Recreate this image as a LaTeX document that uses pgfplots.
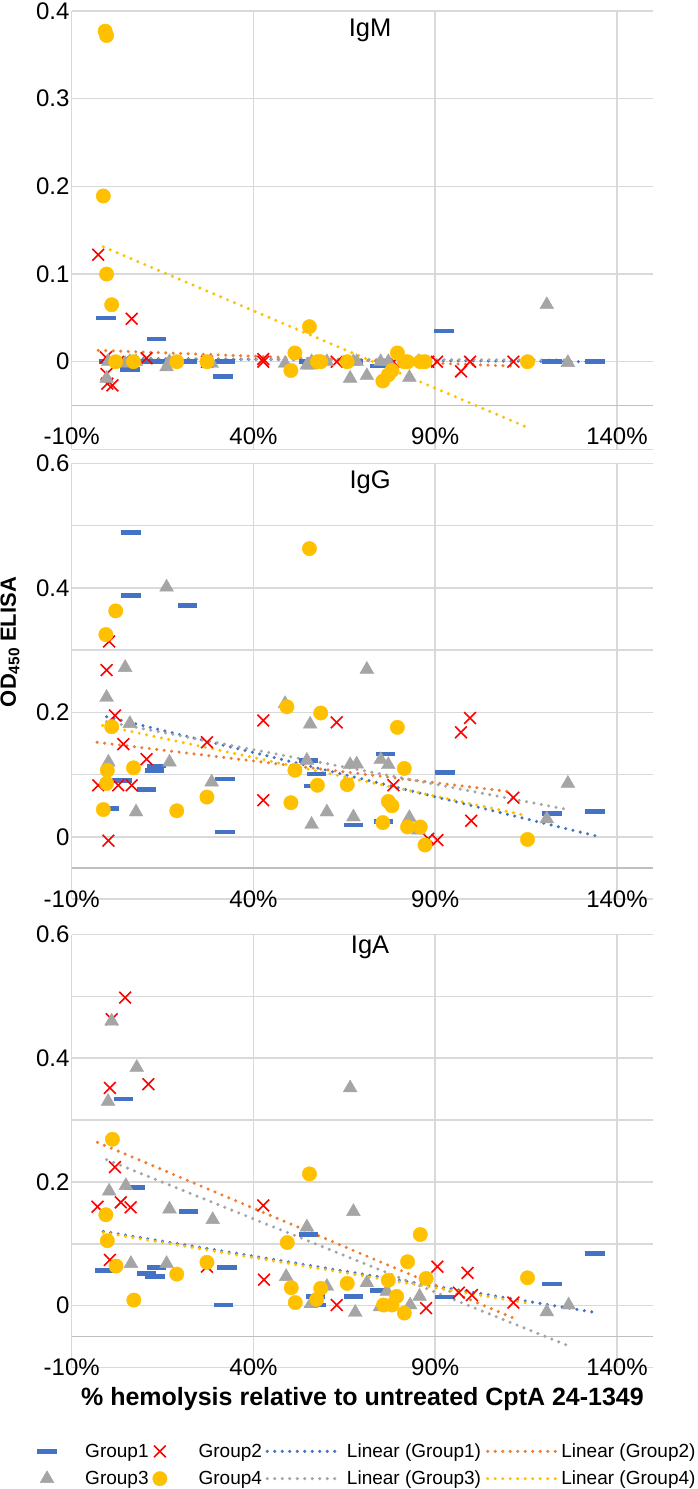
\documentclass[border=0pt]{standalone}
\usepackage{fontspec}
\setmainfont{Liberation Sans}
\usepackage{pgfplots}
\pgfplotsset{compat=1.18}
\definecolor{cb}{HTML}{4472C4}
\definecolor{co}{HTML}{ED7D31}
\definecolor{cg}{HTML}{A5A5A5}
\definecolor{cy}{HTML}{FFC000}
\definecolor{cr}{HTML}{FF0000}
\definecolor{gridc}{HTML}{D9D9D9}
\definecolor{axc}{HTML}{BFBFBF}
\pgfplotsset{
  panel/.style={
    scale only axis, width=581.6pt,
    xmin=-10, xmax=150,
    xtick={-10,40,90,140}, xticklabels={-10\%,40\%,90\%,140\%},
    grid=major, major grid style={draw=gridc, line width=1.5pt},
    axis line style={draw=none}, major tick length=0pt, minor tick length=0pt,
    tick label style={font=\fontsize{24}{28}\selectfont},
    yticklabel style={inner sep=2pt},
    xticklabel style={anchor=center},
    extra y ticks={-0.05}, extra y tick labels={},
    extra y tick style={major grid style={draw=axc, line width=1.8pt}},
    title style={font=\fontsize{25.5}{30}\selectfont, anchor=base},
    /pgf/number format/assume math mode=true,
  },
  g1/.style={only marks, mark=-, mark size=9.7pt, color=cb, mark options={draw=cb, line width=4.7pt}},
  g2/.style={only marks, mark=x, mark size=8.3pt, color=cr, mark options={draw=cr, line width=1.6pt}},
  g3/.style={only marks, mark=triangle*, mark size=8pt, color=cg, mark options={draw=none, fill=cg}},
  g4/.style={only marks, mark=*, mark size=7.2pt, color=cy, mark options={draw=none, fill=cy}},
  tl/.style={no marks, line width=3.4pt, line cap=round, dash pattern=on 0pt off 7.5pt,
    legend image code/.code={\draw[##1] (0pt,0pt) -- (70pt,0pt);}},
}
\begin{document}
\begin{tikzpicture}
\path[use as bounding box] (0pt,0pt) rectangle (697pt,-1489pt);
% ---------------- IgM ----------------
\begin{axis}[panel, at={(71.7pt,-11pt)}, anchor=north west, height=438.4pt,
  ymin=-0.1, ymax=0.4, ytick={-0.1,0,0.1,0.2,0.3,0.4}, yticklabels={,0,0.1,0.2,0.3,0.4},
  xticklabel style={yshift=12.7pt},
  title={IgM}, title style={at={(0.513,1)}, yshift=-31.7pt}]
\addplot[g1] coordinates {(-0.6,0.050) (0.1,0.000) (3.8,0.000) (6.0,-0.009) (10.6,0.000) (12.9,0.000) (13.4,0.026) (21.8,0.000) (31.6,-0.017) (32.2,0.000) (55.1,0.000) (57.4,0.000) (67.5,0.000) (74.7,-0.005) (92.4,0.035) (122.1,0.000) (134.0,0.000)};
\addplot[g2] coordinates {(-2.7,0.122) (6.5,0.049) (-0.4,-0.014) (-0.2,-0.025) (1.2,-0.027) (10.6,0.004) (-0.6,0.005) (2.8,0.000) (4.2,0.000) (27.2,0.000) (42.7,0.003) (42.7,0.000) (62.9,0.000) (78.5,0.000) (88.1,0.000) (90.5,0.000) (97.1,-0.011) (99.6,0.000) (111.5,0.000)};
\addplot[g3] coordinates {(-0.4,-0.019) (0.1,0.000) (4.7,-0.002) (6.0,0.000) (7.7,0.000) (16.1,-0.006) (16.9,0.000) (28.5,-0.002) (48.7,-0.002) (54.7,-0.004) (55.6,-0.004) (56.0,0.000) (60.2,0.000) (66.6,-0.019) (67.5,0.000) (68.4,0.000) (71.2,-0.016) (75.0,0.000) (77.1,0.000) (82.9,-0.018) (85.4,0.000) (120.7,0.065) (126.5,-0.001)};
\addplot[g4] coordinates {(-0.8,0.377) (-0.4,0.372) (-1.3,0.189) (-0.4,0.100) (1.0,0.065) (2.1,0.000) (7.0,0.000) (18.9,0.000) (27.2,0.000) (55.4,0.040) (51.4,0.010) (50.3,-0.010) (57.6,0.000) (58.5,0.000) (65.8,0.000) (79.6,0.010) (75.6,-0.022) (77.1,-0.015) (78.1,-0.010) (81.5,0.000) (82.4,0.000) (85.9,0.000) (87.2,0.000) (115.4,0.000)};
\addplot[tl, cb] coordinates {(-0.6,0.004) (134.0,0.000)};
\addplot[tl, co] coordinates {(-2.7,0.013) (111.5,-0.005)};
\addplot[tl, cg] coordinates {(-0.4,0.003) (126.5,0.002)};
\addplot[tl, cy] coordinates {(-1.3,0.131) (115.4,-0.075)};
\end{axis}
% ---------------- IgG ----------------
\begin{axis}[panel, at={(71.7pt,-463.3pt)}, anchor=north west, height=435.9pt,
  ymin=-0.1, ymax=0.6, ytick={-0.1,0,0.1,0.2,0.3,0.4,0.5,0.6}, yticklabels={,0,,0.2,,0.4,,0.6},
  title={IgG}, title style={at={(0.513,1)}, yshift=-30.7pt},
  ylabel={OD\textsubscript{450} ELISA},
  ylabel style={at={(axis description cs:-0.106,0.590)}, anchor=center, font=\bfseries\fontsize{22}{26}\selectfont}]
\addplot[g1] coordinates {(6.3,0.489) (6.3,0.388) (21.8,0.372) (32.2,0.093) (32.2,0.008) (3.8,0.091) (10.6,0.076) (13.4,0.114) (12.7,0.107) (0.3,0.046) (55.1,0.123) (57.4,0.101) (56.5,0.082) (67.5,0.019) (76.4,0.133) (75.8,0.025) (92.7,0.104) (122.1,0.038) (134.0,0.041)};
\addplot[g2] coordinates {(0.3,0.314) (-0.4,0.268) (1.9,0.195) (4.2,0.149) (10.6,0.125) (-2.7,0.083) (2.8,0.083) (6.5,0.083) (27.2,0.152) (42.7,0.187) (42.7,0.059) (62.9,0.184) (0.1,-0.006) (99.6,0.191) (97.1,0.168) (78.5,0.083) (111.5,0.063) (99.9,0.026) (88.1,-0.003) (90.6,-0.005)};
\addplot[g3] coordinates {(16.1,0.401) (4.7,0.272) (-0.4,0.224) (6.0,0.182) (0.1,0.120) (16.9,0.120) (28.5,0.088) (7.7,0.040) (48.7,0.214) (55.6,0.181) (54.7,0.123) (56.0,0.020) (60.2,0.040) (67.5,0.032) (66.6,0.116) (68.4,0.117) (71.2,0.269) (75.0,0.124) (77.1,0.116) (82.9,0.031) (85.4,0.011) (120.7,0.029) (126.5,0.086)};
\addplot[g4] coordinates {(2.1,0.363) (-0.6,0.325) (1.0,0.177) (-0.2,0.107) (-0.4,0.086) (7.0,0.111) (-1.3,0.044) (18.9,0.042) (27.2,0.064) (55.4,0.463) (49.2,0.209) (58.5,0.199) (51.4,0.107) (57.6,0.083) (50.3,0.055) (65.8,0.084) (79.6,0.176) (81.5,0.110) (77.1,0.057) (78.1,0.050) (75.6,0.023) (82.4,0.016) (85.9,0.016) (87.2,-0.013) (115.4,-0.004)};
\addplot[tl, cb] coordinates {(-0.4,0.193) (134.0,0.002)};
\addplot[tl, co] coordinates {(-3.0,0.152) (111.5,0.072)};
\addplot[tl, cg] coordinates {(-0.4,0.185) (126.5,0.044)};
\addplot[tl, cy] coordinates {(-1.5,0.179) (115.4,0.034)};
\end{axis}
% ---------------- IgA ----------------
\begin{axis}[panel, at={(71.7pt,-934.5pt)}, anchor=north west, height=433pt,
  ymin=-0.1, ymax=0.6, ytick={-0.1,0,0.1,0.2,0.3,0.4,0.5,0.6}, yticklabels={,0,,0.2,,0.4,,0.6},
  title={IgA}, title style={at={(0.513,1)}, yshift=-24.7pt},
  xlabel={\% hemolysis relative to untreated CptA 24-1349},
  xlabel style={at={(axis description cs:0.5,-0.0727)}, anchor=center, font=\bfseries\fontsize{25}{29}\selectfont},
  legend columns=4, legend cell align=left,
  legend style={draw=none, fill=none, at={(-0.0591,-0.2252)}, anchor=west, inner sep=0pt, outer sep=0pt,
    font=\fontsize{19}{22}\selectfont, nodes={inner sep=2pt}, row sep=8pt, column sep=0pt,
    /tikz/column 1/.style={column sep=26.5pt},
    /tikz/column 2/.style={column sep=2.1pt},
    /tikz/column 3/.style={column sep=29.5pt},
    /tikz/column 4/.style={column sep=1.6pt},
    /tikz/column 5/.style={column sep=6pt},
    /tikz/column 6/.style={column sep=2.9pt},
    /tikz/column 7/.style={column sep=0pt}}]
\addlegendimage{g1}\addlegendentry{Group1}
\addlegendimage{g2}\addlegendentry{Group2}
\addlegendimage{tl, cb}\addlegendentry{Linear (Group1)}
\addlegendimage{tl, co}\addlegendentry{Linear (Group2)}
\addlegendimage{g3}\addlegendentry{Group3}
\addlegendimage{g4}\addlegendentry{Group4}
\addlegendimage{tl, cg}\addlegendentry{Linear (Group3)}
\addlegendimage{tl, cy}\addlegendentry{Linear (Group4)}
\addplot[g1, forget plot] coordinates {(4.2,0.334) (7.4,0.191) (22.1,0.152) (55.1,0.115) (-0.8,0.057) (13.4,0.062) (10.6,0.052) (12.9,0.047) (32.7,0.062) (31.7,0.001) (57.0,0.015) (57.4,0.001) (67.5,0.015) (74.8,0.024) (92.7,0.014) (122.1,0.035) (134.0,0.084)};
\addplot[g2, forget plot] coordinates {(1.0,0.463) (4.7,0.498) (0.5,0.352) (11.1,0.358) (1.9,0.224) (-2.9,0.160) (3.5,0.167) (6.2,0.159) (0.5,0.074) (27.2,0.063) (42.7,0.162) (42.9,0.042) (62.9,0.001) (90.6,0.063) (98.9,0.053) (96.5,0.021) (100.1,0.017) (87.5,-0.004) (111.5,0.005)};
\addplot[g3, forget plot] coordinates {(1.0,0.460) (7.9,0.385) (0.0,0.330) (66.6,0.352) (67.5,0.152) (0.3,0.185) (4.9,0.194) (16.9,0.156) (28.8,0.139) (6.3,0.068) (16.1,0.068) (54.7,0.127) (49.0,0.047) (60.2,0.031) (55.8,0.003) (68.0,-0.011) (71.2,0.037) (76.7,0.023) (74.8,-0.002) (83.1,0.001) (85.7,0.015) (120.7,-0.010) (126.7,0.001)};
\addplot[g4, forget plot] coordinates {(1.2,0.269) (-0.6,0.147) (-0.2,0.105) (55.4,0.213) (49.3,0.102) (2.2,0.064) (7.1,0.009) (18.9,0.051) (27.2,0.070) (50.4,0.029) (51.5,0.005) (57.4,0.010) (58.5,0.028) (65.8,0.036) (77.1,0.041) (79.4,0.015) (75.8,0.001) (78.1,0.001) (81.5,-0.012) (82.4,0.071) (85.9,0.115) (87.5,0.044) (115.4,0.045)};
\addplot[tl, cb, forget plot] coordinates {(-1.3,0.120) (134.0,-0.011)};
\addplot[tl, co, forget plot] coordinates {(-2.9,0.264) (111.5,-0.020)};
\addplot[tl, cg, forget plot] coordinates {(-0.4,0.236) (126.7,-0.065)};
\addplot[tl, cy, forget plot] coordinates {(-1.3,0.118) (115.4,0.004)};
\end{axis}
\end{tikzpicture}
\end{document}
